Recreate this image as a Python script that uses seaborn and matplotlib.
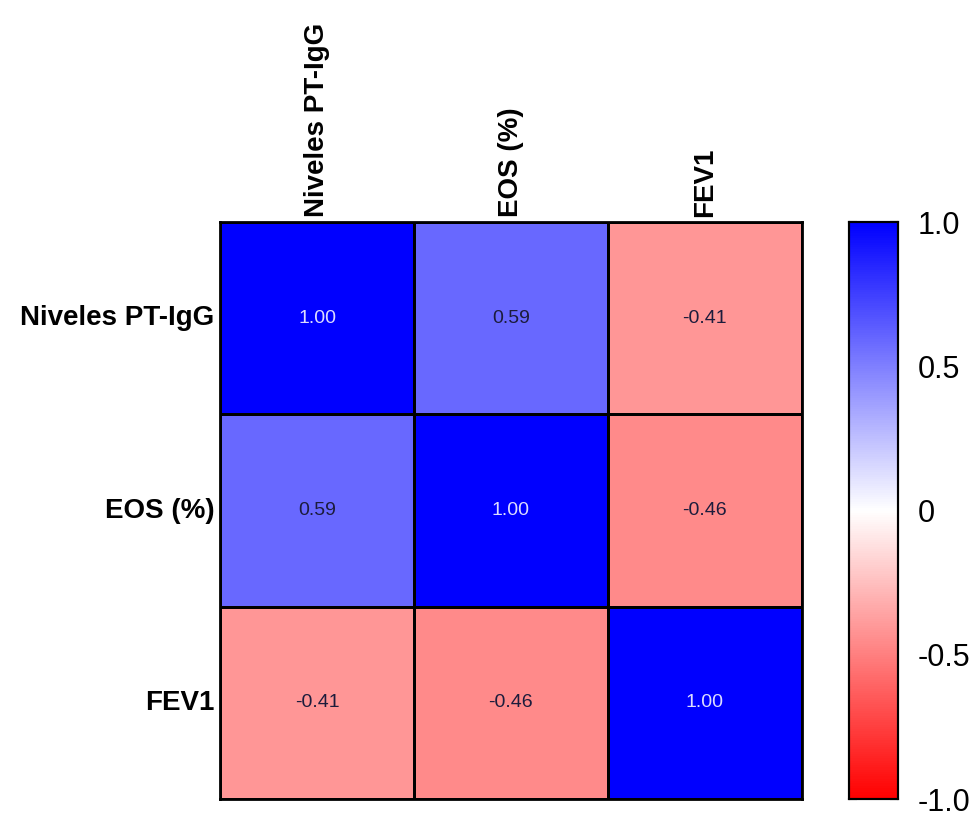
import numpy as np
import pandas as pd
import matplotlib
matplotlib.use("Agg")
import matplotlib.pyplot as plt
import seaborn as sns
from matplotlib.colors import LinearSegmentedColormap

# Etichete si valori de corelatie
variabile = ["Niveles PT-IgG", "EOS (%)", "FEV1"]
corelatii = [
    [1.00, 0.59, -0.41],
    [0.59, 1.00, -0.46],
    [-0.41, -0.46, 1.00],
]
cbar_ticks = [1.0, 0.5, 0.0, -0.5, -1.0]
cbar_labels = ["1.0", "0.5", "0", "-0.5", "-1.0"]

df = pd.DataFrame(corelatii, index=variabile, columns=variabile)

sns.set_style("white")
plt.rcParams["font.family"] = ["Liberation Sans", "DejaVu Sans"]
plt.rcParams["text.color"] = "black"
plt.rcParams["xtick.color"] = "black"
plt.rcParams["ytick.color"] = "black"

# Harta de culori rosu - alb - albastru
cmap = LinearSegmentedColormap.from_list("rwb", ["#ff0000", "#ffffff", "#0000ff"])

fig = plt.figure(figsize=(9.74, 8.17), dpi=100)
ax = fig.add_axes([0.226, 0.022, 0.597, 0.706])
cax = fig.add_axes([0.872, 0.022, 0.050, 0.706])

sns.heatmap(df, ax=ax, cbar_ax=cax, cmap=cmap, vmin=-1, vmax=1,
            annot=True, fmt=".2f", annot_kws={"fontsize": 14},
            linewidths=0.9, linecolor="black", square=False)

# Culoarea textului din celule
for txt in ax.texts:
    v = float(txt.get_text())
    txt.set_color("#dcdcff" if v > 0.8 else "#1c1c3c")

# Etichetele axelor
ax.xaxis.tick_top()
ax.set_xticklabels(variabile, rotation=90, fontsize=20, fontweight="bold", color="black")
ax.set_yticklabels(variabile, rotation=0, fontsize=20, fontweight="bold", color="black")
ax.tick_params(axis="both", length=0, pad=4)
ax.set_xlabel("")
ax.set_ylabel("")
for s in ax.spines.values():
    s.set_visible(True)
    s.set_linewidth(2)
    s.set_color("black")

# Bara de culori
cax.set_yticks(cbar_ticks)
cax.set_yticklabels(cbar_labels, fontsize=22, color="black")
cax.tick_params(axis="y", direction="in", left=True, right=True,
                length=6, width=1.5, color="black", pad=14)
for s in cax.spines.values():
    s.set_visible(True)
    s.set_linewidth(1.5)
    s.set_color("black")

fig.savefig("out.png", dpi=100)
